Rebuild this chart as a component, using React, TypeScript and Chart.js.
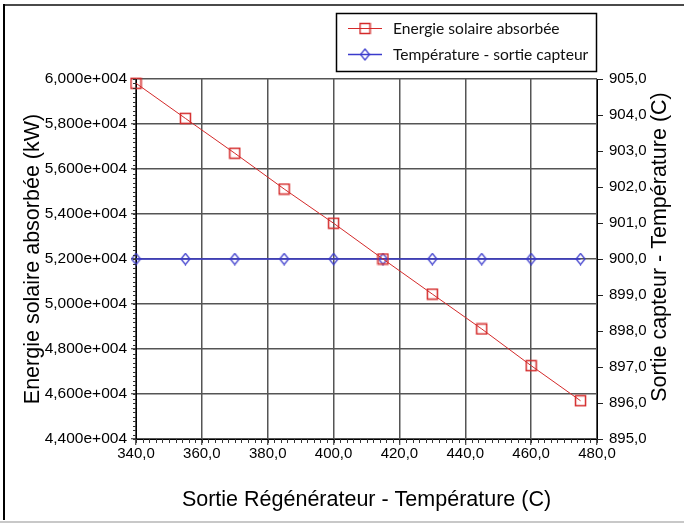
import { useEffect, useRef } from 'react';
import { Chart, registerables } from 'chart.js';

Chart.register(...registerables);

// Régénérateur outlet temperature (C)
const regenOutletTemps = [340, 355, 370, 385, 400, 415, 430, 445, 460, 475];
// Absorbed solar energy (kW)
const absorbedSolarEnergy = [59810, 58250, 56700, 55110, 53590, 52000, 50440, 48890, 47260, 45700];
// Collector outlet temperature (C)
const collectorOutletTemps = [900, 900, 900, 900, 900, 900, 900, 900, 900, 900];

const seriesLabels = ['Energie solaire absorbée', 'Température - sortie capteur'];
const xTitle = 'Sortie Régénérateur - Température (C)';
const yLeftTitle = 'Energie solaire absorbée (kW)';
const yRightTitle = 'Sortie capteur - Température (C)';

const xRange = { min: 340, max: 480, step: 20, minor: 2 };
const yLeftRange = { min: 44000, max: 60000, step: 2000, minor: 200 };
const yRightRange = { min: 895, max: 905, step: 1 };

const RED = '#d42a2a';
const BLUE = '#3a3acc';
const AXIS_FONT = '"Liberation Sans", Arial, sans-serif';
const TITLE_SIZE = 21.5;

const fmtDec = (v: number, d: number) => v.toFixed(d).replace('.', ',');
const fmtSci = (v: number) => fmtDec(v / 1e4, 3) + 'e+004';

function makeSquare(): HTMLCanvasElement {
  const c = document.createElement('canvas');
  c.width = 13;
  c.height = 13;
  const g = c.getContext('2d')!;
  g.strokeStyle = RED;
  g.lineWidth = 1.5;
  g.strokeRect(1.5, 1.5, 10, 10);
  return c;
}

function makeDiamond(): HTMLCanvasElement {
  const c = document.createElement('canvas');
  c.width = 11;
  c.height = 13;
  const g = c.getContext('2d')!;
  g.strokeStyle = BLUE;
  g.lineWidth = 1.2;
  g.beginPath();
  g.moveTo(5.5, 1);
  g.lineTo(10, 6.5);
  g.lineTo(5.5, 12);
  g.lineTo(1, 6.5);
  g.closePath();
  g.stroke();
  return c;
}

export default function App() {
  const ref = useRef<HTMLCanvasElement | null>(null);

  useEffect(() => {
    if (!ref.current) return;
    const square = makeSquare();
    const diamond = makeDiamond();

    const framePlugin = {
      id: 'frame',
      beforeDraw(chart: any) {
        const ctx = chart.ctx;
        ctx.save();
        ctx.fillStyle = '#fff';
        ctx.fillRect(0, 0, chart.width, chart.height);
        ctx.strokeStyle = '#4a4a4a';
        ctx.lineWidth = 2;
        ctx.beginPath();
        ctx.moveTo(3, 5);
        ctx.lineTo(chart.width, 5);
        ctx.stroke();
        ctx.strokeStyle = '#000';
        ctx.beginPath();
        ctx.moveTo(4, 4);
        ctx.lineTo(4, 520);
        ctx.stroke();
        ctx.strokeStyle = '#c8c8c8';
        ctx.beginPath();
        ctx.moveTo(0, 522);
        ctx.lineTo(chart.width, 522);
        ctx.stroke();
        ctx.restore();
      },
      afterDraw(chart: any) {
        const ctx = chart.ctx;
        const xs = chart.scales.x;
        const yl = chart.scales.y;
        const area = chart.chartArea;
        ctx.save();
        // minor ticks
        ctx.strokeStyle = '#333';
        ctx.lineWidth = 1;
        ctx.beginPath();
        for (let v = xRange.min; v <= xRange.max + 1e-6; v += xRange.minor) {
          const px = Math.round(xs.getPixelForValue(v)) + 0.5;
          ctx.moveTo(px, area.bottom);
          ctx.lineTo(px, area.bottom + 4);
        }
        for (let v = yLeftRange.min; v <= yLeftRange.max + 1e-6; v += yLeftRange.minor) {
          const py = Math.round(yl.getPixelForValue(v)) + 0.5;
          ctx.moveTo(area.left - 3, py);
          ctx.lineTo(area.left, py);
        }
        ctx.stroke();

        // right axis title, reading bottom to top
        ctx.save();
        ctx.translate(660, 247);
        ctx.rotate(-Math.PI / 2);
        ctx.font = `${TITLE_SIZE}px ${AXIS_FONT}`;
        ctx.fillStyle = '#000';
        ctx.textAlign = 'center';
        ctx.textBaseline = 'middle';
        ctx.fillText(yRightTitle, 0, 0);
        ctx.restore();

        // legend
        const boxL = 336.5, boxT = 13.5, boxW = 260, boxH = 58;
        ctx.fillStyle = '#fff';
        ctx.fillRect(boxL, boxT, boxW, boxH);
        ctx.strokeStyle = '#000';
        ctx.lineWidth = 1.5;
        ctx.strokeRect(boxL, boxT, boxW, boxH);
        const rows = [
          { y: 28, color: RED, img: square, width: 1 },
          { y: 54, color: BLUE, img: diamond, width: 1.5 },
        ];
        ctx.font = '15.6px Lato, "Open Sans", sans-serif';
        ctx.textBaseline = 'middle';
        ctx.textAlign = 'left';
        rows.forEach((r, i) => {
          ctx.strokeStyle = r.color;
          ctx.lineWidth = r.width;
          ctx.beginPath();
          ctx.moveTo(348, r.y + 0.5);
          ctx.lineTo(382, r.y + 0.5);
          ctx.stroke();
          ctx.drawImage(r.img, 365 - r.img.width / 2, r.y + 0.5 - r.img.height / 2);
          ctx.fillStyle = '#111';
          ctx.fillText(seriesLabels[i], 393, r.y + 1);
        });
        ctx.restore();
      },
    };

    const chart = new Chart(ref.current, {
      type: 'line',
      data: {
        datasets: [
          {
            label: seriesLabels[0],
            data: regenOutletTemps.map((x, i) => ({ x, y: absorbedSolarEnergy[i] })),
            yAxisID: 'y',
            borderColor: RED,
            borderWidth: 1,
            pointStyle: square as any,
            pointRadius: 6,
            clip: false as any,
            order: 0,
          },
          {
            label: seriesLabels[1],
            data: regenOutletTemps.map((x, i) => ({ x, y: collectorOutletTemps[i] })),
            yAxisID: 'y1',
            borderColor: BLUE,
            borderWidth: 1.5,
            pointStyle: diamond as any,
            pointRadius: 6,
            clip: false as any,
            order: 1,
          },
        ],
      },
      options: {
        responsive: false,
        animation: false,
        devicePixelRatio: 1,
        layout: { padding: { top: 79, left: 0, right: 0, bottom: 0 } },
        plugins: { legend: { display: false }, tooltip: { enabled: false } },
        scales: {
          x: {
            type: 'linear',
            position: 'bottom',
            min: xRange.min,
            max: xRange.max,
            ticks: {
              stepSize: xRange.step,
              callback: (v: any) => fmtDec(Number(v), 1),
              font: { family: AXIS_FONT, size: 15 },
              color: '#000',
              padding: 0,
              maxRotation: 0,
              autoSkip: false,
            },
            grid: { color: '#555', lineWidth: 1.5, tickLength: 6, tickColor: '#222', tickWidth: 1 },
            border: { color: '#000', width: 1 },
            title: {
              display: true,
              text: xTitle,
              font: { family: AXIS_FONT, size: TITLE_SIZE, lineHeight: 1.2 },
              color: '#000',
              padding: { top: 0, bottom: 11 },
            },
            afterFit: (s: any) => {
              s.height = 85;
            },
          },
          y: {
            type: 'linear',
            position: 'left',
            min: yLeftRange.min,
            max: yLeftRange.max,
            ticks: {
              stepSize: yLeftRange.step,
              callback: (v: any) => fmtSci(Number(v)),
              font: { family: AXIS_FONT, size: 15.5 },
              color: '#000',
              padding: 4,
            },
            grid: { color: '#555', lineWidth: 1.5, tickLength: 5, tickColor: '#222', tickWidth: 1 },
            border: { color: '#000', width: 1 },
            title: {
              display: true,
              text: yLeftTitle,
              font: { family: AXIS_FONT, size: TITLE_SIZE, lineHeight: 1.2 },
              color: '#000',
              padding: { top: 20, bottom: 0 },
            },
            afterFit: (s: any) => {
              s.width = 136;
            },
          },
          y1: {
            type: 'linear',
            position: 'right',
            min: yRightRange.min,
            max: yRightRange.max,
            ticks: {
              stepSize: yRightRange.step,
              callback: (v: any) => fmtDec(Number(v), 1),
              font: { family: AXIS_FONT, size: 15 },
              color: '#000',
              padding: 6,
            },
            grid: { drawOnChartArea: false, tickLength: 6, tickColor: '#222', color: '#222' },
            border: { color: '#000', width: 1 },
            title: { display: false },
            afterFit: (s: any) => {
              s.width = 87;
            },
          },
        },
      } as any,
      plugins: [framePlugin],
    });

    return () => chart.destroy();
  }, []);

  return (
    <div style={{ position: 'fixed', left: 0, top: 0, width: 684, height: 524, background: '#fff' }}>
      <canvas ref={ref} width={684} height={524} style={{ display: 'block' }} />
    </div>
  );
}
